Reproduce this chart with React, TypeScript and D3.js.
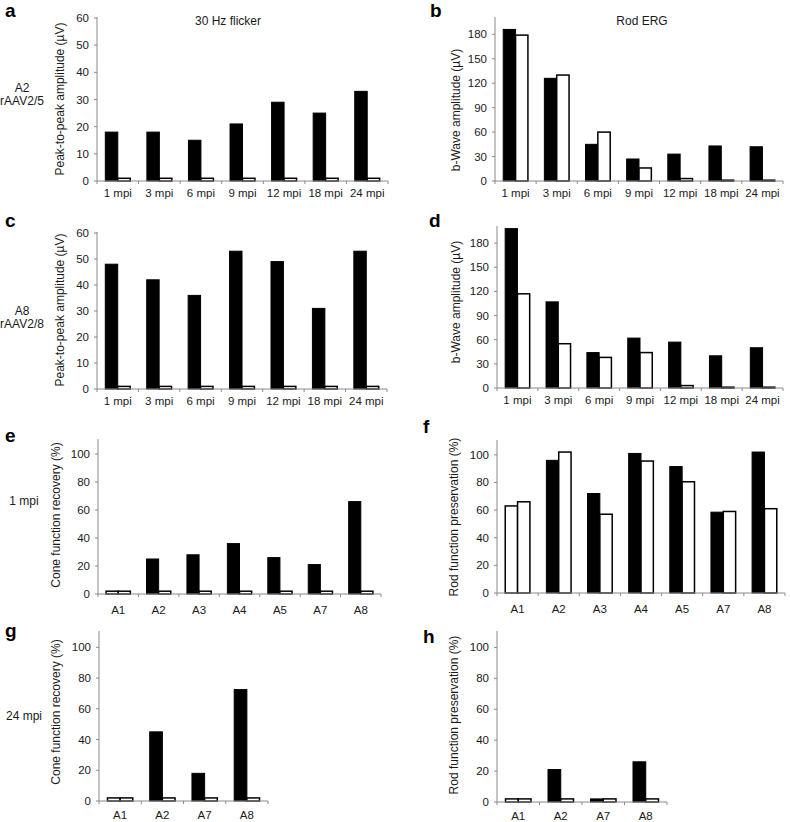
import React from "react";
import * as d3 from "d3";

// ---------- data ----------
const mpiCategories = ["1 mpi", "3 mpi", "6 mpi", "9 mpi", "12 mpi", "18 mpi", "24 mpi"];
const animals1mpi = ["A1", "A2", "A3", "A4", "A5", "A7", "A8"];
const animals24mpi = ["A1", "A2", "A7", "A8"];
const uninjectedAnimals = ["A1"];

const flickerA2Treated = [18, 18, 15, 21, 29, 25, 33];
const flickerA2Untreated = [1, 1, 1, 1, 1, 1, 1];
const rodA2Treated = [186, 126, 45, 27, 33, 43, 42];
const rodA2Untreated = [179, 130, 60, 16, 3, 1, 1];
const flickerA8Treated = [48, 42, 36, 53, 49, 31, 53];
const flickerA8Untreated = [1, 1, 1, 1, 1, 1, 1];
const rodA8Treated = [198, 107, 44, 62, 57, 40, 50];
const rodA8Untreated = [117, 55, 38, 44, 3, 1, 1];
const cone1mpiTreated = [2, 25, 28, 36, 26, 21, 66];
const cone1mpiUntreated = [2, 2, 2, 2, 2, 2, 2];
const rod1mpiTreated = [63, 96, 72, 101, 91.5, 58.5, 102];
const rod1mpiUntreated = [66, 102, 57, 95.5, 80.5, 59, 61];
const cone24mpiTreated = [2, 45, 18, 72.5];
const cone24mpiUntreated = [2, 2, 2, 2];
const rod24mpiTreated = [2, 21, 2, 26];
const rod24mpiUntreated = [2, 2, 2, 2];

const flickerTicks = [0, 10, 20, 30, 40, 50, 60];
const rodTicks = [0, 30, 60, 90, 120, 150, 180];
const pctTicks = [0, 20, 40, 60, 80, 100];

const FONT = "'Liberation Sans', Arial, Helvetica, sans-serif";
const AXIS = "#8a8a8a";
const TEXT = "#1a1a1a";

type PanelDef = {
  letter: string; lx: number; ly: number;
  cats: string[]; treated: number[]; untreated: number[];
  ticks: number[]; max: number;
  x0: number; x1: number; yBottom: number; yTop: number;
  yLabel: string; yLabelX: number; yLabelY: number;
  catOffset: number;
};

const panels: PanelDef[] = [
  { letter: "a", lx: 5, ly: 17, cats: mpiCategories, treated: flickerA2Treated, untreated: flickerA2Untreated,
    ticks: flickerTicks, max: 60, x0: 97, x1: 388, yBottom: 181, yTop: 18,
    yLabel: "Peak-to-peak amplitude (\u00b5V)", yLabelX: 64, yLabelY: 99, catOffset: 16 },
  { letter: "b", lx: 430, ly: 17, cats: mpiCategories, treated: rodA2Treated, untreated: rodA2Untreated,
    ticks: rodTicks, max: 200, x0: 495, x1: 783, yBottom: 181, yTop: 18,
    yLabel: "b-Wave amplitude (\u00b5V)", yLabelX: 460, yLabelY: 110, catOffset: 16 },
  { letter: "c", lx: 5, ly: 227, cats: mpiCategories, treated: flickerA8Treated, untreated: flickerA8Untreated,
    ticks: flickerTicks, max: 60, x0: 97, x1: 387, yBottom: 389, yTop: 233,
    yLabel: "Peak-to-peak amplitude (\u00b5V)", yLabelX: 64, yLabelY: 310, catOffset: 16 },
  { letter: "d", lx: 429, ly: 227, cats: mpiCategories, treated: rodA8Treated, untreated: rodA8Untreated,
    ticks: rodTicks, max: 200, x0: 497, x1: 783, yBottom: 388, yTop: 227,
    yLabel: "b-Wave amplitude (\u00b5V)", yLabelX: 460, yLabelY: 302, catOffset: 16 },
  { letter: "e", lx: 5, ly: 442, cats: animals1mpi, treated: cone1mpiTreated, untreated: cone1mpiUntreated,
    ticks: pctTicks, max: 110, x0: 98, x1: 381, yBottom: 594, yTop: 440,
    yLabel: "Cone function recovery (%)", yLabelX: 60, yLabelY: 515, catOffset: 20 },
  { letter: "f", lx: 423, ly: 433, cats: animals1mpi, treated: rod1mpiTreated, untreated: rod1mpiUntreated,
    ticks: pctTicks, max: 110, x0: 497, x1: 785, yBottom: 593, yTop: 441,
    yLabel: "Rod function preservation (%)", yLabelX: 458, yLabelY: 517, catOffset: 20 },
  { letter: "g", lx: 5, ly: 637, cats: animals24mpi, treated: cone24mpiTreated, untreated: cone24mpiUntreated,
    ticks: pctTicks, max: 110, x0: 99, x1: 268, yBottom: 801, yTop: 632,
    yLabel: "Cone function recovery (%)", yLabelX: 60, yLabelY: 712, catOffset: 18 },
  { letter: "h", lx: 423, ly: 643, cats: animals24mpi, treated: rod24mpiTreated, untreated: rod24mpiUntreated,
    ticks: pctTicks, max: 110, x0: 497, x1: 667, yBottom: 802, yTop: 632,
    yLabel: "Rod function preservation (%)", yLabelX: 458, yLabelY: 715, catOffset: 18 },
];

function Panel({ p }: { p: PanelDef }) {
  const x = d3.scaleBand<string>().domain(p.cats).range([p.x0, p.x1]).padding(0);
  const y = d3.scaleLinear().domain([0, p.max]).range([p.yBottom, p.yTop]);
  const bw = x.bandwidth();
  const w = bw * 0.3;
  const boundaries = p.cats.map((c) => x(c) as number).concat([p.x1]);
  return (
    <g>
      <text x={p.lx} y={p.ly} fontSize={19} fontWeight="bold" fill="#000" fontFamily={FONT}>{p.letter}</text>
      {/* bars */}
      {p.cats.map((c, i) => {
        const cx = (x(c) as number) + bw / 2;
        const t = p.treated[i];
        const u = p.untreated[i];
        const tWhite = uninjectedAnimals.includes(c);
        return (
          <g key={c}>
            <rect x={cx - w} y={y(t)} width={w} height={p.yBottom - y(t)}
              fill={tWhite ? "#fff" : "#000"} stroke="#000" strokeWidth={tWhite ? 1.5 : 1} />
            <rect x={cx} y={y(u)} width={w} height={p.yBottom - y(u)}
              fill="#fff" stroke="#000" strokeWidth={1.5} />
          </g>
        );
      })}
      {/* y axis */}
      <line x1={p.x0} x2={p.x0} y1={p.yTop - 1} y2={p.yBottom} stroke={AXIS} strokeWidth={1} />
      {p.ticks.map((t) => (
        <g key={t}>
          <line x1={p.x0 - 3} x2={p.x0} y1={y(t)} y2={y(t)} stroke={AXIS} strokeWidth={1} />
          <text x={p.x0 - 8} y={y(t)} dy="0.35em" textAnchor="end" fontSize={11.5} fill={TEXT} fontFamily={FONT}>{t}</text>
        </g>
      ))}
      {/* x axis */}
      <line x1={p.x0} x2={p.x1} y1={p.yBottom} y2={p.yBottom} stroke={AXIS} strokeWidth={1} />
      {boundaries.map((bx, i) => (
        <line key={i} x1={bx} x2={bx} y1={p.yBottom} y2={p.yBottom + 3} stroke={AXIS} strokeWidth={1} />
      ))}
      {p.cats.map((c) => (
        <text key={c} x={(x(c) as number) + bw / 2} y={p.yBottom + p.catOffset} textAnchor="middle"
          fontSize={11.5} fill={TEXT} fontFamily={FONT}>{c}</text>
      ))}
      <text transform={`translate(${p.yLabelX},${p.yLabelY}) rotate(-90)`} textAnchor="middle"
        fontSize={12} fill={TEXT} fontFamily={FONT}>{p.yLabel}</text>
    </g>
  );
}

export default function App() {
  return (
    <svg width={790} height={822} style={{ position: "absolute", left: 0, top: 0, background: "#fff" }}>
      <rect x={0} y={0} width={790} height={822} fill="#fff" />
      <text x={228} y={25} textAnchor="middle" fontSize={12} fill={TEXT} fontFamily={FONT}>30 Hz flicker</text>
      <text x={642} y={25} textAnchor="middle" fontSize={12} fill={TEXT} fontFamily={FONT}>Rod ERG</text>
      <text x={22} y={92} textAnchor="middle" fontSize={12} fill={TEXT} fontFamily={FONT}>A2</text>
      <text x={22} y={105} textAnchor="middle" fontSize={12} fill={TEXT} fontFamily={FONT}>rAAV2/5</text>
      <text x={22} y={315} textAnchor="middle" fontSize={12} fill={TEXT} fontFamily={FONT}>A8</text>
      <text x={22} y={328} textAnchor="middle" fontSize={12} fill={TEXT} fontFamily={FONT}>rAAV2/8</text>
      <text x={24} y={505} textAnchor="middle" fontSize={12} fill={TEXT} fontFamily={FONT}>1 mpi</text>
      <text x={24} y={720} textAnchor="middle" fontSize={12} fill={TEXT} fontFamily={FONT}>24 mpi</text>
      {panels.map((p) => <Panel key={p.letter} p={p} />)}
    </svg>
  );
}
